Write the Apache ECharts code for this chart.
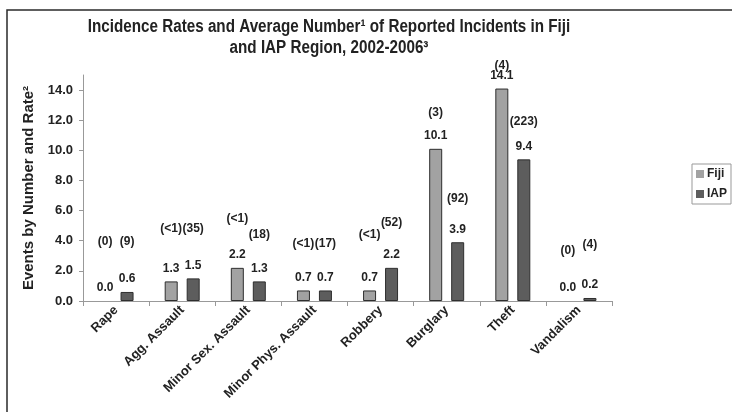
<!DOCTYPE html>
<html>
<head>
<meta charset="utf-8">
<script src="https://cdn.jsdelivr.net/npm/echarts@6/dist/echarts.min.js"></script>
<style>
  html, body { margin: 0; padding: 0; background: #fff; }
  #chart { width: 732px; height: 412px; }
</style>
</head>
<body>
<div id="chart"></div>
<script>
// Offence categories along the x axis
const categories = ['Rape', 'Agg. Assault', 'Minor Sex. Assault', 'Minor Phys. Assault',
  'Robbery', 'Burglary', 'Theft', 'Vandalism'];

// Incidence rates (bar heights)
const fijiRates = [0.0, 1.3, 2.2, 0.7, 0.7, 10.1, 14.1, 0.0];
const iapRates = [0.6, 1.5, 1.3, 0.7, 2.2, 3.9, 9.4, 0.2];

// Average number of reported incidents (bracketed labels)
const fijiCounts = ['0', '<1', '<1', '<1', '<1', '3', '4', '0'];
const iapCounts = ['9', '35', '18', '17', '52', '92', '223', '4'];

// Y axis ticks
const yMin = 0, yMax = 15, yStep = 2;

// How far each bracketed label sits above its value label (px)
const fijiCountLift = [46, 40, 36, 34, 43, 23, 10, 37];
const iapCountLift = [37, 37, 34, 34, 32, 31, 25, 40];

const FONT = '"Liberation Sans", Arial, sans-serif';
const TEXT = '#222';

const chart = echarts.init(document.getElementById('chart'), null, { renderer: 'canvas' });

const valueLabel = {
  show: true, position: 'top', distance: 7,
  fontFamily: FONT, fontWeight: 'bold', fontSize: 12, color: TEXT,
  formatter: p => p.value.toFixed(1)
};

function rateSeries(name, rates, fill) {
  return {
    type: 'bar', name: name, barWidth: 13, barGap: '69%',
    label: valueLabel,
    itemStyle: { color: fill, borderColor: '#2e2e2e', borderWidth: 1 },
    // a zero-height bar draws nothing, not even its outline
    data: rates.map(v => v === 0 ? { value: v, itemStyle: { borderWidth: 0 } } : v)
  };
}

function countSeries(name, rates, counts, lifts) {
  return {
    type: 'bar', name: name, xAxisIndex: 1, yAxisIndex: 0,
    barWidth: 13, barGap: '69%', silent: true,
    itemStyle: { color: 'rgba(0,0,0,0)' },
    data: rates.map((v, i) => ({
      value: v,
      label: {
        show: true, position: 'top', distance: 7,
        offset: [0, -lifts[i]],
        fontFamily: FONT, fontWeight: 'bold', fontSize: 12, color: TEXT,
        formatter: '(' + counts[i] + ')'
      }
    }))
  };
}

chart.setOption({
  animation: false,
  backgroundColor: '#fff',
  graphic: [
    { type: 'rect', silent: true, z: -1,
      shape: { x: 7, y: 10, width: 800, height: 500 },
      style: { fill: 'none', stroke: '#2a2a2a', lineWidth: 1.5 } },
    { type: 'text', silent: true,
      x: 329, y: 17, scaleX: 0.87,
      style: {
        x: 0, y: 0, textAlign: 'center', textVerticalAlign: 'top',
        text: 'Incidence Rates and Average Number\u00b9 of Reported Incidents in Fiji\nand IAP Region, 2002-2006\u00b3',
        font: 'bold 17.5px "Liberation Sans", Arial, sans-serif',
        lineHeight: 21, fill: TEXT
      } }
  ],
  legend: {
    data: ['Fiji', 'IAP'],
    orient: 'vertical',
    left: 692, top: 164,
    itemWidth: 8, itemHeight: 8, itemGap: 8,
    padding: [4, 4, 4, 4],
    borderColor: '#999', borderWidth: 1,
    itemStyle: { borderWidth: 0 },
    textStyle: { fontFamily: FONT, fontWeight: 'bold', fontSize: 12, color: TEXT, padding: [0, 0, 0, -2] },
    icon: 'rect'
  },
  grid: { left: 83, right: 120, top: 75, bottom: 111 },
  xAxis: [{
    type: 'category', data: categories,
    axisLine: { lineStyle: { color: '#999', width: 1 } },
    axisTick: { show: true, length: 5, lineStyle: { color: '#999' } },
    axisLabel: {
      interval: 0, rotate: 45, margin: 7,
      fontFamily: FONT, fontWeight: 'bold', fontSize: 13, color: TEXT
    }
  }, {
    type: 'category', data: categories, show: false
  }],
  yAxis: {
    type: 'value', min: yMin, max: yMax, interval: yStep,
    name: 'Events by Number and Rate\u00b2',
    nameLocation: 'middle', nameGap: 42,
    nameTextStyle: { fontFamily: FONT, fontWeight: 'bold', fontSize: 15, color: TEXT },
    axisLine: { show: true, lineStyle: { color: '#999', width: 1 } },
    axisTick: { show: true, length: 4, lineStyle: { color: '#999' } },
    splitLine: { show: false },
    axisLabel: {
      showMaxLabel: false, margin: 10,
      fontFamily: FONT, fontWeight: 'bold', fontSize: 13, color: TEXT,
      formatter: v => v.toFixed(1)
    }
  },
  series: [
    rateSeries('Fiji', fijiRates, '#a2a2a2'),
    rateSeries('IAP', iapRates, '#5d5d5d'),
    countSeries('Fiji count', fijiRates, fijiCounts, fijiCountLift),
    countSeries('IAP count', iapRates, iapCounts, iapCountLift)
  ]
});
</script>
</body>
</html>
